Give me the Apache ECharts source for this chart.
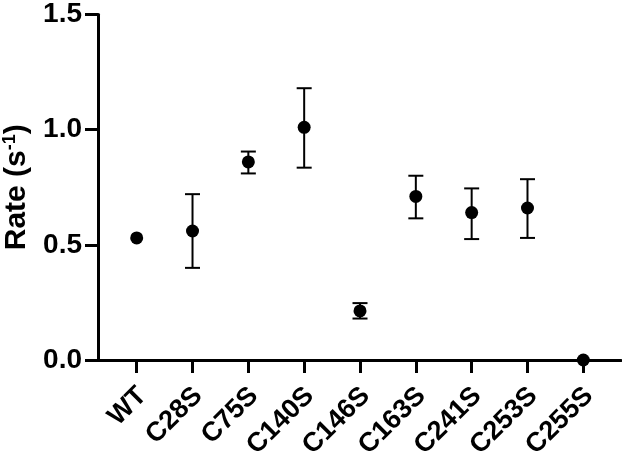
<!DOCTYPE html>
<html>
<head>
<meta charset="utf-8">
<script src="https://cdn.jsdelivr.net/npm/echarts@6/dist/echarts.min.js"></script>
<style>
html,body{margin:0;padding:0;background:#fff;}
#chart{width:622px;height:451px;}
</style>
</head>
<body>
<div id="chart"></div>
<script>
const categories = ['WT','C28S','C75S','C140S','C146S','C163S','C241S','C253S','C255S'];
const rates      = [0.53, 0.56, 0.86, 1.01, 0.213, 0.71, 0.64, 0.66, 0.0];
const errLower   = [null, 0.40, 0.81, 0.835, 0.18, 0.615, 0.525, 0.53, null];
const errUpper   = [null, 0.72, 0.905, 1.18, 0.247, 0.80, 0.745, 0.785, null];
const yTicks     = [0, 0.5, 1.0, 1.5];

const FONT = '"Liberation Sans", Arial, Helvetica, sans-serif';
const pointData = categories.map((c, i) => [i, rates[i]]);
const errData = [];
categories.forEach((c, i) => {
  if (errLower[i] != null && errUpper[i] != null) errData.push([i, errLower[i], errUpper[i]]);
});
const catIdx = categories.map((c, i) => i);

const chart = echarts.init(document.getElementById('chart'), null, {renderer: 'canvas'});
chart.setOption({
  animation: false,
  backgroundColor: '#fff',
  grid: {left: 98, right: 1, top: 14.5, bottom: 91, containLabel: false, outerBoundsMode: 'none'},
  xAxis: {
    type: 'value',
    min: -0.693,
    max: 8.675,
    splitLine: {show: false},
    axisLine: {show: true, onZero: false, lineStyle: {color: '#000', width: 3}},
    axisTick: {show: true, length: 13, lineStyle: {color: '#000', width: 3}, customValues: catIdx},
    axisLabel: {
      show: true,
      customValues: catIdx,
      rotate: 45,
      margin: 26,
      verticalAlign: 'middle',
      formatter: v => '{t|' + categories[Math.round(v)] + '}',
      rich: {
        t: {fontFamily: FONT, fontWeight: 'bold', fontSize: 27, color: '#000', padding: [16, 0, 0, 0]}
      },
      fontFamily: FONT, fontWeight: 'bold', fontSize: 27, color: '#000'
    }
  },
  yAxis: {
    type: 'value',
    min: yTicks[0],
    max: yTicks[yTicks.length - 1],
    interval: 0.5,
    splitLine: {show: false},
    axisLine: {show: true, onZero: false, lineStyle: {color: '#000', width: 3}},
    axisTick: {show: true, length: 13, lineStyle: {color: '#000', width: 3}},
    axisLabel: {
      margin: 16,
      formatter: v => v.toFixed(1),
      fontFamily: FONT, fontWeight: 'bold', fontSize: 28, color: '#000'
    },
    name: '{a|Rate (s}{b|-1}{a|)}',
    nameLocation: 'middle',
    nameRotate: 90,
    nameGap: 81,
    nameMoveOverlap: false,
    nameTextStyle: {
      verticalAlign: 'middle',
      rich: {
        a: {fontFamily: FONT, fontWeight: 'bold', fontSize: 30, color: '#000', lineHeight: 32},
        b: {fontFamily: FONT, fontWeight: 'bold', fontSize: 18, color: '#000', verticalAlign: 'top', lineHeight: 32}
      }
    }
  },
  series: [
    {
      type: 'custom',
      z: 2,
      clip: false,
      data: errData,
      encode: {x: 0, y: [1, 2]},
      renderItem: function (params, api) {
        const x = api.value(0);
        const pLo = api.coord([x, api.value(1)]);
        const pHi = api.coord([x, api.value(2)]);
        const hw = 7.5;
        const st = {stroke: '#000', lineWidth: 2};
        return {
          type: 'group',
          children: [
            {type: 'line', shape: {x1: pLo[0], y1: pLo[1], x2: pHi[0], y2: pHi[1]}, style: st},
            {type: 'line', shape: {x1: pLo[0] - hw, y1: pLo[1], x2: pLo[0] + hw, y2: pLo[1]}, style: st},
            {type: 'line', shape: {x1: pHi[0] - hw, y1: pHi[1], x2: pHi[0] + hw, y2: pHi[1]}, style: st}
          ]
        };
      }
    },
    {
      type: 'scatter',
      z: 5,
      clip: false,
      symbol: 'circle',
      symbolSize: 13,
      itemStyle: {color: '#000', opacity: 1},
      data: pointData
    }
  ]
});
</script>
</body>
</html>
